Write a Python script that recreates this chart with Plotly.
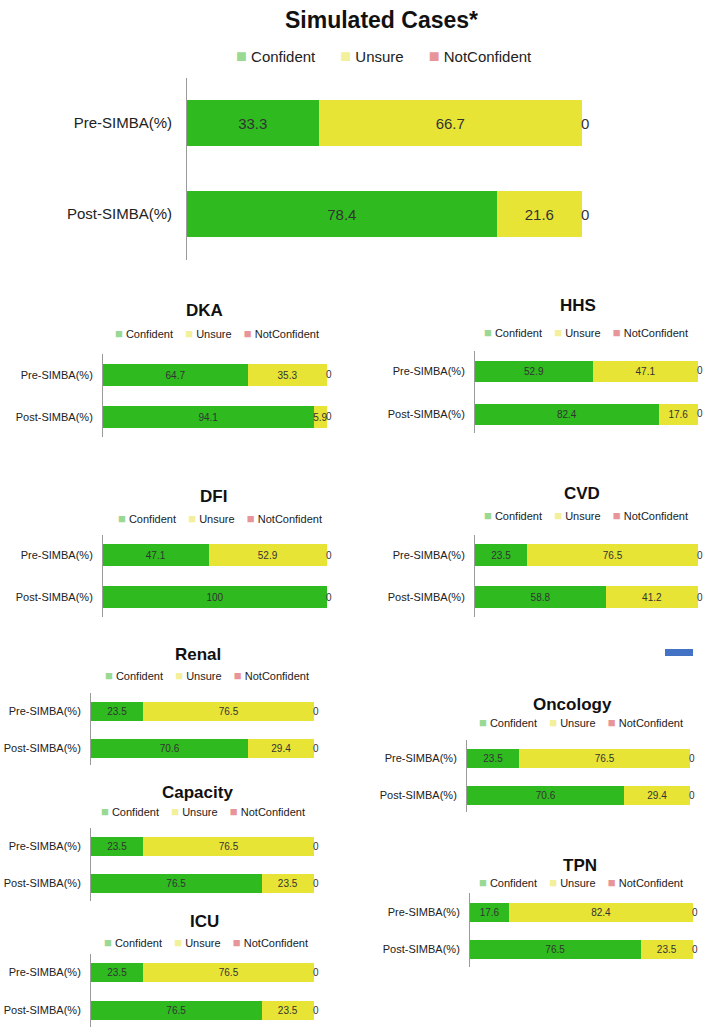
import plotly.graph_objects as go

W, H = 709, 1032

categories = ["Pre-SIMBA(%)", "Post-SIMBA(%)"]
series_names = ["Confident", "Unsure", "NotConfident"]

panel_titles = ["Simulated Cases*", "DKA", "HHS", "DFI", "CVD",
                "Renal", "Capacity", "ICU", "Oncology", "TPN"]

# percent of respondents per category (Pre, Post)
confident_sim = [33.3, 78.4]
unsure_sim = [66.7, 21.6]
notconf_sim = [0, 0]

confident_dka = [64.7, 94.1]
unsure_dka = [35.3, 5.9]
notconf_dka = [0, 0]

confident_hhs = [52.9, 82.4]
unsure_hhs = [47.1, 17.6]
notconf_hhs = [0, 0]

confident_dfi = [47.1, 100]
unsure_dfi = [52.9, 0]
notconf_dfi = [0, 0]

confident_cvd = [23.5, 58.8]
unsure_cvd = [76.5, 41.2]
notconf_cvd = [0, 0]

confident_renal = [23.5, 70.6]
unsure_renal = [76.5, 29.4]
notconf_renal = [0, 0]

confident_capacity = [23.5, 76.5]
unsure_capacity = [76.5, 23.5]
notconf_capacity = [0, 0]

confident_icu = [23.5, 76.5]
unsure_icu = [76.5, 23.5]
notconf_icu = [0, 0]

confident_onc = [23.5, 70.6]
unsure_onc = [76.5, 29.4]
notconf_onc = [0, 0]

confident_tpn = [17.6, 76.5]
unsure_tpn = [82.4, 23.5]
notconf_tpn = [0, 0]

panel_values = [
    (confident_sim, unsure_sim, notconf_sim),
    (confident_dka, unsure_dka, notconf_dka),
    (confident_hhs, unsure_hhs, notconf_hhs),
    (confident_dfi, unsure_dfi, notconf_dfi),
    (confident_cvd, unsure_cvd, notconf_cvd),
    (confident_renal, unsure_renal, notconf_renal),
    (confident_capacity, unsure_capacity, notconf_capacity),
    (confident_icu, unsure_icu, notconf_icu),
    (confident_onc, unsure_onc, notconf_onc),
    (confident_tpn, unsure_tpn, notconf_tpn),
]

# placement of each small chart, in window pixels:
# title x/y, legend centre x/y, axis left x, bar end x, axis top/bottom,
# pre/post row centre y, bar thickness
small = dict(fs=11, ds=10, ls=11, ts=17, sq=13, gap=4, standoff=7)
geom = [
    dict(tx=381, ty=20, lx=384, ly=56, x0=187, x1=582, top=78, bot=260, pre=123, post=214, th=46,
         fs=15, ds=15, ls=15, ts=23, sq=18, gap=6, standoff=11),
    dict(small, tx=204, ty=310, lx=217, ly=333, x0=103, x1=327, top=354, bot=437, pre=375, post=417, th=22),
    dict(small, tx=578, ty=305, lx=586, ly=332, x0=475, x1=698, top=351, bot=433, pre=371, post=414, th=21),
    dict(small, tx=214, ty=497, lx=220, ly=518, x0=103, x1=327, top=535, bot=617, pre=555, post=597, th=22),
    dict(small, tx=582, ty=494, lx=586, ly=515, x0=475, x1=698, top=535, bot=617, pre=555, post=597, th=22),
    dict(small, tx=198, ty=654, lx=207, ly=675, x0=91, x1=314, top=693, bot=765, pre=711, post=748, th=19),
    dict(small, tx=197, ty=792, lx=203, ly=811, x0=91, x1=314, top=828, bot=901, pre=846, post=883, th=19),
    dict(small, tx=204, ty=921, lx=206, ly=942, x0=91, x1=314, top=954, bot=1027, pre=972, post=1010, th=19),
    dict(small, tx=572, ty=704, lx=581, ly=722, x0=467, x1=690, top=740, bot=812, pre=758, post=795, th=19),
    dict(small, tx=580, ty=865, lx=581, ly=882, x0=470, x1=693, top=893, bot=967, pre=912, post=949, th=19),
]

bar_colors = ["#2fbb1f", "#e8e436", "#e88a8a"]
legend_colors = ["#99d994", "#f2f09a", "#e8959a"]
font = "Liberation Sans, Arial"


def px(x):
    return min(1.0, max(0.0, x / W))


def py(y):
    return min(1.0, max(0.0, 1 - y / H))


fig = go.Figure()
annotations = []
layout = dict(width=W, height=H, margin=dict(l=0, r=0, t=0, b=0),
              paper_bgcolor="white", plot_bgcolor="white",
              barmode="stack", showlegend=False, hovermode=False)

for i, (title, vals, g) in enumerate(zip(panel_titles, panel_values, geom)):
    n = "" if i == 0 else str(i + 1)
    xa, ya = "x" + n, "y" + n
    d = g["post"] - g["pre"]
    width = g["th"] / d

    for k, (name, v) in enumerate(zip(series_names, vals)):
        txt = [("%g" % a) if a > 0 else "" for a in v]
        fig.add_trace(go.Bar(
            x=v, y=categories, orientation="h", name=name,
            marker=dict(color=bar_colors[k], line=dict(width=0)),
            width=width, text=txt, textposition="inside", textangle=0,
            constraintext="none", insidetextanchor="middle", cliponaxis=False,
            textfont=dict(family=font, size=g["ds"], color="#333333"),
            xaxis=xa, yaxis=ya))

    # NotConfident values written just past the end of each stacked bar
    totals = [a + b + c for a, b, c in zip(*vals)]
    for cat, tot, nc in zip(categories, totals, vals[2]):
        annotations.append(dict(text="%g" % nc, x=tot, y=cat, xref=xa, yref=ya,
                                showarrow=False, xanchor="left", yanchor="middle", xshift=-3,
                                font=dict(family=font, size=g["ds"], color="#333333")))

    layout["xaxis" + n] = dict(domain=[px(g["x0"]), px(g["x1"])], range=[0, 100],
                               visible=False, anchor=ya, fixedrange=True)
    layout["yaxis" + n] = dict(
        domain=[py(g["bot"]), py(g["top"])], anchor=xa,
        type="category", categoryarray=categories, categoryorder="array",
        range=[(g["bot"] - g["pre"]) / d, (g["top"] - g["pre"]) / d],
        showline=True, linecolor="#9a9a9a", linewidth=1,
        showgrid=False, zeroline=False, ticks="", ticklen=0,
        ticklabelstandoff=g["standoff"],
        tickfont=dict(family=font, size=g["fs"], color="#222222"),
        fixedrange=True)

    # legend row: coloured square + series name
    gap = "&nbsp;" * g["gap"]
    legend_text = gap.join(
        "<span style='color:%s;font-size:%dpx'>■</span> %s" % (c, g["sq"], s)
        for c, s in zip(legend_colors, series_names))
    annotations.append(dict(text=legend_text, x=px(g["lx"]), y=py(g["ly"]),
                            xref="paper", yref="paper", showarrow=False,
                            xanchor="center", yanchor="middle",
                            font=dict(family=font, size=g["ls"], color="#222222")))
    annotations.append(dict(text="<b>%s</b>" % title, x=px(g["tx"]), y=py(g["ty"]),
                            xref="paper", yref="paper", showarrow=False,
                            xanchor="center", yanchor="middle",
                            font=dict(family=font, size=g["ts"], color="#111111")))

layout["annotations"] = annotations
# stray blue rectangle in the original figure
layout["shapes"] = [dict(type="rect", xref="paper", yref="paper",
                         x0=px(665), x1=px(693), y0=py(656), y1=py(649),
                         fillcolor="#4472c4", line=dict(width=0))]
fig.update_layout(**layout)

# drop the page's default body margin so the figure fills the window exactly
fig.write_html("out.html", config={"displayModeBar": False},
               post_script="document.body.style.margin='0';")
